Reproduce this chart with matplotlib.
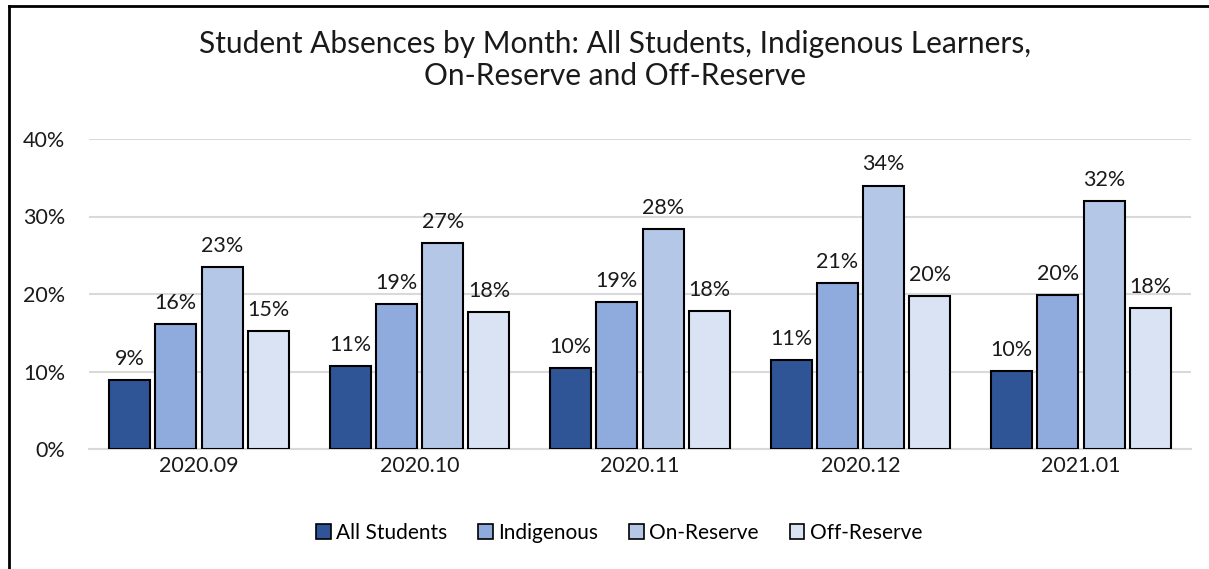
import matplotlib
matplotlib.use("Agg")
import matplotlib.pyplot as plt
import numpy as np
from matplotlib.lines import Line2D

categories = ["2020.09", "2020.10", "2020.11", "2020.12", "2021.01"]
series_names = ["All Students", "Indigenous", "On-Reserve", "Off-Reserve"]
all_students = [8.9, 10.7, 10.45, 11.5, 10.1]
indigenous = [16.1, 18.7, 19.0, 21.4, 19.9]
on_reserve = [23.5, 26.6, 28.4, 34.0, 32.0]
off_reserve = [15.2, 17.7, 17.8, 19.7, 18.2]
labels_all = ["9%", "11%", "10%", "11%", "10%"]
labels_ind = ["16%", "19%", "19%", "21%", "20%"]
labels_on = ["23%", "27%", "28%", "34%", "32%"]
labels_off = ["15%", "18%", "18%", "20%", "18%"]
yticks = [0, 10, 20, 30, 40]
ytick_labels = ["0%", "10%", "20%", "30%", "40%"]
title = "Student Absences by Month: All Students, Indigenous Learners,\nOn-Reserve and Off-Reserve"

colors = ["#2F5597", "#8FAADC", "#B4C7E7", "#DAE3F3"]
plt.rcParams['font.family'] = ['Lato', 'DejaVu Sans']

W, H = 1209, 569
fig = plt.figure(figsize=(W / 100, H / 100), dpi=100)
ax = fig.add_axes([88.75 / W, (H - 449) / H, 1102.5 / W, 310 / H])

FS = 15.5
data = [all_students, indigenous, on_reserve, off_reserve]
labs = [labels_all, labels_ind, labels_on, labels_off]
x = np.arange(len(categories))
bw = 0.186
step = 0.21
for i, (vals, lab) in enumerate(zip(data, labs)):
    pos = x + (i - 1.5) * step
    bars = ax.bar(pos, vals, width=bw, color=colors[i], edgecolor="black",
                  linewidth=1.5, label=series_names[i], zorder=3)
    for b, t in zip(bars, lab):
        ax.annotate(t, (b.get_x() + b.get_width() / 2, b.get_height()),
                    xytext=(0, 8), textcoords="offset points",
                    ha="center", va="bottom", fontsize=FS, color="#1a1a1a")

ax.set_xlim(-0.5, len(categories) - 0.5)
ax.set_ylim(0, 40)
ax.set_yticks(yticks)
ax.set_yticklabels(ytick_labels, fontsize=FS, color="#1a1a1a")
ax.set_xticks(x)
ax.set_xticklabels(categories, fontsize=FS, color="#1a1a1a")
ax.tick_params(length=0)
ax.tick_params(axis="x", pad=5)
ax.tick_params(axis="y", pad=17)
ax.yaxis.grid(True, color="#D9D9D9", linewidth=1.5, zorder=0)
for s in ["top", "right", "left"]:
    ax.spines[s].set_visible(False)
ax.spines["bottom"].set_color("#D9D9D9")
ax.spines["bottom"].set_linewidth(1.5)

fig.text(615 / W, 1 - 60 / H, title, ha="center", va="center", fontsize=21.5,
         color="#1a1a1a", linespacing=1.2)

leg = fig.legend(loc="center", bbox_to_anchor=(619 / W, 1 - 533 / H), ncol=4,
                 frameon=False, fontsize=15, handlelength=0.7, handleheight=0.7,
                 handletextpad=0.25, columnspacing=1.5)
for h in leg.legend_handles:
    h.set_linewidth(1.2)

# outer chart border (only left and top visible in the image)
fig.add_artist(Line2D([8.5 / W, 8.5 / W], [0, 1 - 6 / H], transform=fig.transFigure,
                      color="black", linewidth=2))
fig.add_artist(Line2D([8.5 / W, 1], [1 - 6 / H, 1 - 6 / H], transform=fig.transFigure,
                      color="black", linewidth=2))

fig.savefig("out.png", dpi=100, facecolor="white")
